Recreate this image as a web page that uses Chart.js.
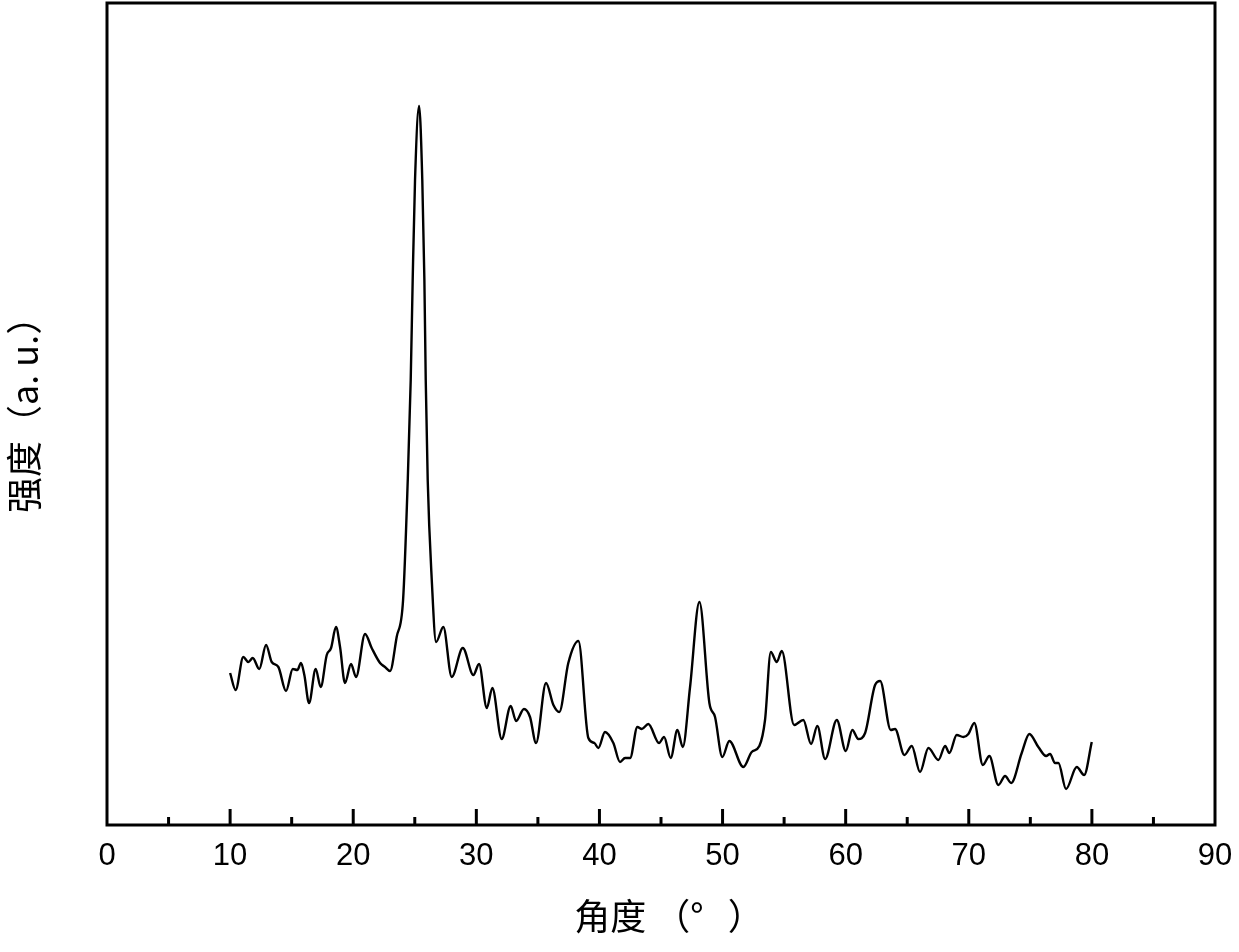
<!DOCTYPE html>
<html>
<head>
<meta charset="utf-8">
<script src="https://cdn.jsdelivr.net/npm/chart.js@4/dist/chart.umd.min.js"></script>
<style>
html,body{margin:0;padding:0;background:#fff;}
#wrap{width:1239px;height:952px;}
</style>
</head>
<body>
<div id="wrap"><canvas id="c" width="1239" height="952"></canvas></div>
<script>
// 2θ angle (degrees)
const angles = [
 10.0,10.45,11.07,11.48,11.84,12.37,12.92,13.38,13.92,14.54,15.09,15.46,15.76,16.03,16.41,16.95,17.36,17.85,18.20,18.60,
 18.93,19.33,19.82,20.23,20.96,21.50,22.18,22.58,22.99,23.53,24.05,24.43,24.67,24.83,25.02,25.35,25.61,25.78,25.89,26.05,
 26.38,26.73,27.32,28.00,28.90,29.76,30.22,30.85,31.30,32.06,32.79,33.23,33.87,34.36,34.85,35.66,36.26,36.74,37.47,38.29,
 39.10,39.59,39.91,40.45,41.13,41.67,42.08,42.49,43.08,43.44,43.97,44.84,45.25,45.79,46.33,46.77,47.36,48.12,48.93,49.39,
 49.98,50.55,51.69,52.37,52.99,53.45,53.92,54.40,54.81,55.81,56.56,57.19,57.70,58.33,59.28,60.01,60.54,61.03,61.58,62.39,
 62.80,63.66,64.01,64.77,65.37,66.04,66.72,67.53,68.08,68.42,69.02,69.56,69.97,70.45,71.14,71.67,72.40,72.95,73.44,74.30,
 74.92,75.65,76.28,76.60,77.01,77.28,77.90,78.77,79.37,79.99
];
// intensity (a.u.)
const intensity = [
 152,135,168,163,167,156,180,163,158,134,156,155,162,150,122,156,138,170,177,198,
 178,142,161,148,191,177,162,158,154,188,225,345,445,545,645,719,645,545,445,345,
 245,183,198,148,177,150,161,117,137,86,119,104,116,108,82,142,120,113,162,184,
 87,82,77,93,82,63,67,67,98,96,101,82,88,67,95,78,138,223,122,108,
 68,84,58,73,79,105,173,163,174,100,105,81,99,66,105,74,95,86,92,140,
 144,95,96,70,79,53,77,65,79,72,90,88,91,102,60,69,40,49,42,72,
 91,78,69,71,62,62,36,58,50,83
];
const xTicks = [0,10,20,30,40,50,60,70,80,90];
const xTitle = '  角度 （°   ）';
const yTitle = '  强度（a. u.）';

const points = angles.map((a,i)=>({x:a,y:intensity[i]}));

const framePlugin = {
  id:'frame',
  afterDraw(chart){
    const {ctx, chartArea:a, scales} = chart;
    ctx.save();
    ctx.strokeStyle = '#000';
    ctx.lineWidth = 3;
    ctx.strokeRect(a.left, a.top, a.right-a.left, a.bottom-a.top);
    for (let v = 5; v < 90; v += 5) {
      const px = scales.x.getPixelForValue(v);
      const len = (v % 10 === 0) ? 16 : 8;
      ctx.beginPath();
      ctx.moveTo(px, a.bottom);
      ctx.lineTo(px, a.bottom - len);
      ctx.stroke();
    }
    ctx.restore();
  }
};

new Chart(document.getElementById('c'), {
  type:'line',
  data:{datasets:[{data:points,borderColor:'#000',borderWidth:2.4,pointRadius:0,fill:false,cubicInterpolationMode:'monotone'}]},
  options:{
    responsive:false,
    animation:false,
    devicePixelRatio:1,
    layout:{padding:{top:3,right:24,left:0,bottom:0}},
    plugins:{legend:{display:false},tooltip:{enabled:false}},
    scales:{
      x:{
        type:'linear',min:0,max:90,
        afterBuildTicks:(s)=>{s.ticks = xTicks.map(v=>({value:v}));},
        afterFit:(s)=>{s.height = 127; s.paddingLeft = 0; s.paddingRight = 0;},
        grid:{display:false,drawTicks:false},
        border:{display:false},
        ticks:{padding:13,color:'#000',font:{family:"'Liberation Sans', Arial, sans-serif",size:31},maxRotation:0,autoSkip:false},
        title:{display:true,text:xTitle,color:'#000',font:{family:'Noto Sans CJK SC',size:36},padding:{top:0,bottom:14}}
      },
      y:{
        min:0,max:822,
        afterFit:(s)=>{s.width = 107;},
        grid:{display:false,drawTicks:false},
        border:{display:false},
        ticks:{display:false},
        title:{display:true,text:yTitle,color:'#000',font:{family:'Noto Sans CJK SC',size:36},padding:{top:3,bottom:0}}
      }
    }
  },
  plugins:[framePlugin]
});
</script>
</body>
</html>
